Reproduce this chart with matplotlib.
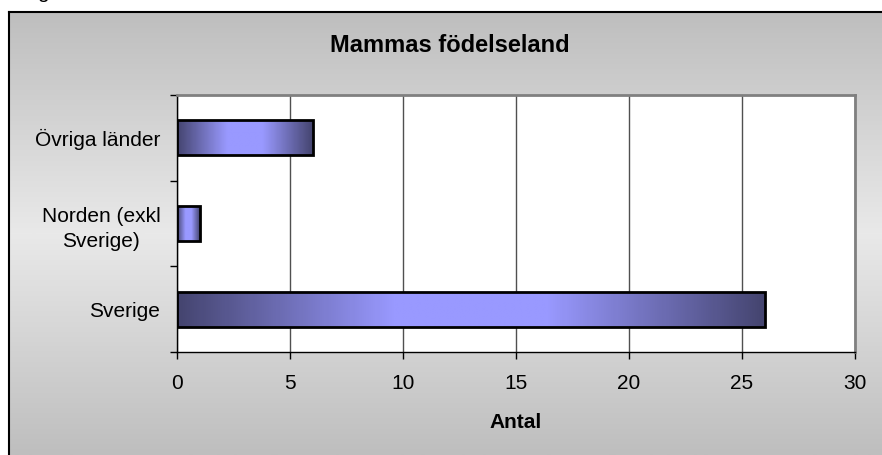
import numpy as np
import matplotlib.pyplot as plt
from matplotlib.colors import LinearSegmentedColormap

plt.rcParams['font.family'] = ['Liberation Sans', 'DejaVu Sans']

# Data
categories = ['Sverige', 'Norden (exkl\nSverige)', 'Övriga länder']
values = [26, 1, 6]
xticks = [0, 5, 10, 15, 20, 25, 30]
title = 'Mammas födelseland'
xlabel = 'Antal'

W, H = 882, 455
fig = plt.figure(figsize=(W / 100, H / 100), dpi=100)
fig.patch.set_facecolor('white')

# Gray gradient chart area background with frame
bg = fig.add_axes([9 / W, 0, 1 - 9 / W, (H - 12) / H])
grad = np.abs(np.linspace(-1, 1, 256)).reshape(-1, 1)
bg_cmap = LinearSegmentedColormap.from_list('bg', ['#e9e9e9', '#bebebe'])
bg.imshow(grad, aspect='auto', cmap=bg_cmap, extent=(0, 1, 0, 1))
bg.set_xlim(0, 1)
bg.set_ylim(0, 1)
bg.set_xticks([])
bg.set_yticks([])
for side in ['right', 'bottom']:
    bg.spines[side].set_visible(False)
for side in ['left', 'top']:
    bg.spines[side].set_color('black')
    bg.spines[side].set_linewidth(1.5)

# Cut-off caption text above the chart (only its descender shows)
fig.text(37 / W, 1.0 + 2 / H, 'g', fontsize=15, va='baseline', color='black')

# Plot area
ax = fig.add_axes([177 / W, (H - 352) / H, (855 - 177) / W, (352 - 95) / H])
ax.set_facecolor('white')
y = np.arange(len(categories))
bars = ax.barh(y, values, height=0.41, facecolor='none', edgecolor='black',
               linewidth=2, zorder=3)

bar_cmap = LinearSegmentedColormap.from_list(
    'bar', ['#454570', '#9999ff', '#9999ff', '#454570'])
strip = np.concatenate([np.linspace(0, 0.45, 128), np.linspace(0.55, 1, 128)]).reshape(1, -1)
for b in bars:
    x0, y0 = b.get_x(), b.get_y()
    x1, y1 = x0 + b.get_width(), y0 + b.get_height()
    im = ax.imshow(strip, aspect='auto', cmap=bar_cmap, extent=(x0, x1, y0, y1),
                   zorder=2, interpolation='bilinear')
    im.set_clip_path(b)

ax.set_xlim(0, 30)
ax.set_ylim(-0.5, len(categories) - 0.5)
ax.set_xticks(xticks)
ax.set_xticklabels([str(t) for t in xticks], fontsize=15)
ax.set_yticks(y)
ax.set_yticklabels(categories, fontsize=15, multialignment='center', linespacing=1.45)
ax.set_yticks(np.arange(-0.5, len(categories), 1), minor=True)
ax.tick_params(axis='y', which='major', length=0, pad=12)
ax.tick_params(axis='y', which='minor', length=5, width=1, direction='out')
ax.tick_params(axis='x', length=5, width=1, direction='out', pad=11)
ax.grid(axis='x', color='#505050', linewidth=1, zorder=1)
ax.set_axisbelow(True)

for side in ['top', 'right']:
    ax.spines[side].set_color('#808080')
    ax.spines[side].set_linewidth(2)
for side in ['left', 'bottom']:
    ax.spines[side].set_color('black')
    ax.spines[side].set_linewidth(1)

ax.set_xlabel(xlabel, fontsize=15, fontweight='bold', labelpad=14)
fig.text(450 / W, (H - 45) / H, title, fontsize=17, fontweight='bold',
         ha='center', va='center')

fig.savefig('out.png', dpi=100)
